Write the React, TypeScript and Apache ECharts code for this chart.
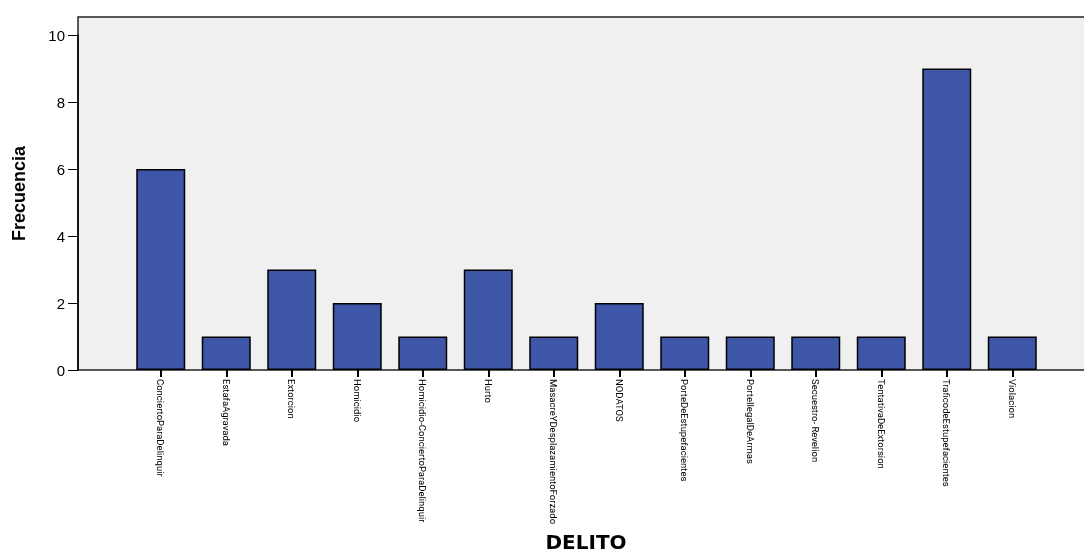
import React, { useEffect, useRef } from "react";
import * as echarts from "echarts";

const categories = [
  "ConciertoParaDelinquir",
  "EstafaAgravada",
  "Extorcion",
  "Homicidio",
  "Homicidio-ConciertoParaDelinquir",
  "Hurto",
  "MasacreYDesplazamientoForzado",
  "NODATOS",
  "PorteDeEstupefacientes",
  "PorteIlegalDeArmas",
  "Secuestro- Revelion",
  "TentativaDeExtorsion",
  "TraficodeEstupefacientes",
  "Violacion",
];
const frequencies = [6, 1, 3, 2, 1, 3, 1, 2, 1, 1, 1, 1, 9, 1];
const yTicks = [0, 2, 4, 6, 8, 10];

export default function App() {
  const ref = useRef<HTMLDivElement>(null);
  useEffect(() => {
    const chart = echarts.init(ref.current!, null, { renderer: "svg" });
    const yMax = 10.54;
    chart.setOption({
      animation: false,
      grid: [
        {
          left: 78,
          top: 17,
          right: -2,
          bottom: 183,
          show: true,
          backgroundColor: "#f0f0f0",
          borderColor: "#222",
          borderWidth: 1.5,
          outerBoundsMode: "none",
          containLabel: false,
        },
        {
          left: 128,
          top: 17,
          width: 917,
          bottom: 183,
          outerBoundsMode: "none",
          containLabel: false,
        },
        {
          left: 78,
          top: 35.1,
          right: -2,
          bottom: 183,
          outerBoundsMode: "none",
          containLabel: false,
        },
      ],
      xAxis: [
        { gridIndex: 0, type: "value", show: false, min: 0, max: 1 },
        {
          gridIndex: 1,
          type: "category",
          data: categories,
          axisLine: { show: false },
          axisTick: {
            show: true,
            alignWithLabel: true,
            length: 7,
            lineStyle: { color: "#000", width: 2 },
          },
          axisLabel: {
            rotate: -90,
            interval: 0,
            margin: 9,
            color: "#000",
            fontSize: 9.5,
            fontFamily: "Roboto, Liberation Sans, sans-serif",
          },
        },
        { gridIndex: 2, type: "value", show: false, min: 0, max: 1 },
      ],
      yAxis: [
        {
          gridIndex: 0,
          type: "value",
          min: 0,
          max: yMax,
          axisLine: { show: false },
          axisTick: { show: false },
          axisLabel: { show: false },
          splitLine: { show: false },
          name: "Frecuencia",
          nameLocation: "middle",
          nameGap: 50,
          nameTextStyle: {
            color: "#000",
            fontSize: 18,
            fontWeight: "bold",
            fontFamily: "Liberation Sans, Arial, sans-serif",
          },
        },
        { gridIndex: 1, type: "value", min: 0, max: yMax, show: false },
        {
          gridIndex: 2,
          type: "value",
          min: 0,
          max: 10,
          interval: 2,
          splitLine: { show: false },
          axisLine: { show: true, lineStyle: { color: "#000", width: 1.5 } },
          axisTick: { show: true, length: 10, lineStyle: { color: "#000", width: 1 } },
          axisLabel: {
            color: "#000",
            fontSize: 15,
            fontFamily: "Liberation Sans, Arial, sans-serif",
            margin: 13,
            formatter: (v: number) => (yTicks.includes(v) ? String(v) : ""),
          },
        },
      ],
      graphic: [
        {
          type: "text",
          x: 586,
          y: 542,
          style: {
            text: "DELITO",
            fill: "#000",
            align: "center",
            verticalAlign: "middle",
            font: "bold 20px 'DejaVu Sans', Arial, sans-serif",
          },
        },
      ],
      series: [
        {
          type: "bar",
          xAxisIndex: 1,
          yAxisIndex: 1,
          data: frequencies,
          barWidth: 49,
          itemStyle: { color: "#3d56a8", borderColor: "#000", borderWidth: 1.5 },
        },
      ],
    });
    return () => chart.dispose();
  }, []);
  return (
    <div
      ref={ref}
      style={{ position: "fixed", left: 0, top: 0, width: 1084, height: 553 }}
    />
  );
}
